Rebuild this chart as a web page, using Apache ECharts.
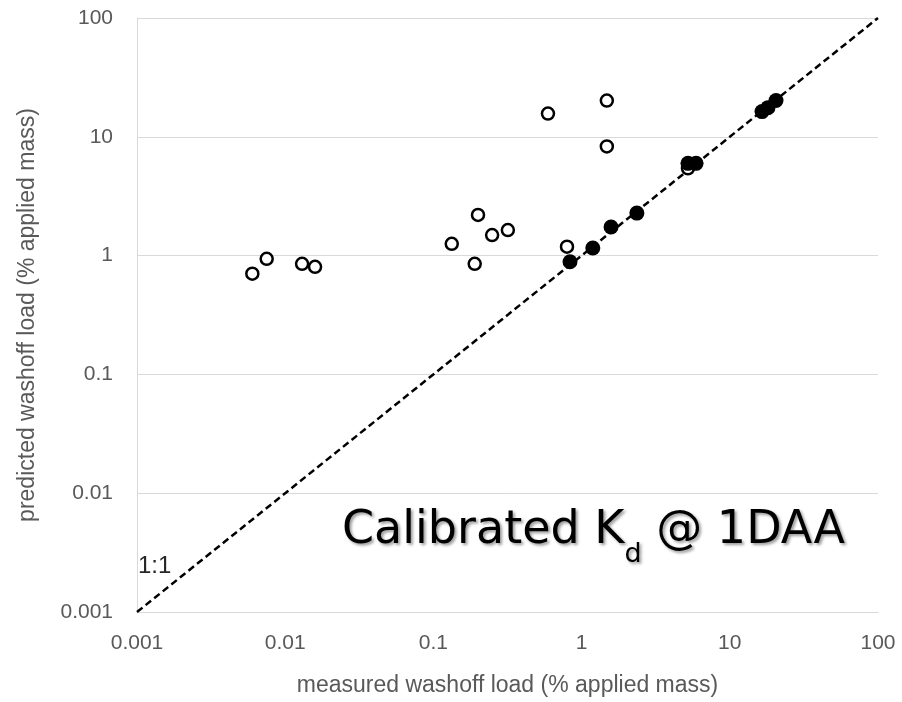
<!DOCTYPE html>
<html><head><meta charset="utf-8">
<script src="https://cdn.jsdelivr.net/npm/echarts@6/dist/echarts.min.js"></script>
<style>html,body{margin:0;padding:0;background:#fff}#c{width:902px;height:702px}</style>
</head><body><div id="c"></div>
<script>
// measured (x) and predicted (y) washoff load, % applied mass
const openMeasured  = [0.006, 0.0075, 0.013, 0.0159, 0.133, 0.2, 0.19, 0.249, 0.318, 0.593, 1.48, 1.48, 0.797, 5.22];
const openPredicted = [0.705, 0.94, 0.853, 0.805, 1.256, 2.2, 0.853, 1.49, 1.64, 15.7, 20.2, 8.3, 1.19, 5.43];
const filledMeasured  = [0.835, 1.19, 1.58, 2.36, 5.22, 5.92, 16.5, 18.1, 20.5];
const filledPredicted = [0.888, 1.16, 1.74, 2.28, 5.98, 5.98, 16.3, 17.6, 20.2];
const oneToOne = [0.001, 100];
const tickLabels = ['0.001', '0.01', '0.1', '1', '10', '100'];

const pairs = (xs, ys) => xs.map((x, i) => [x, ys[i]]);
const fmt = v => {
  const e = Math.round(Math.log10(v));
  return tickLabels[e + 3] !== undefined ? tickLabels[e + 3] : String(v);
};
const fontFam = '"Liberation Sans", Arial, sans-serif';

const chart = echarts.init(document.getElementById('c'));
chart.setOption({
  animation: false,
  backgroundColor: '#fff',
  grid: { left: 137, right: 24, top: 18, bottom: 87 },
  xAxis: {
    type: 'log', logBase: 10, min: 0.001, max: 100,
    name: 'measured washoff load (% applied mass)',
    nameLocation: 'middle', nameGap: 62,
    nameTextStyle: { color: '#595959', fontSize: 23, fontFamily: fontFam },
    axisLine: { show: true, lineStyle: { color: '#d9d9d9', width: 1 } },
    axisTick: { show: false },
    splitLine: { show: false },
    axisLabel: { color: '#595959', fontSize: 21, fontFamily: fontFam, margin: 21, formatter: fmt }
  },
  yAxis: {
    type: 'log', logBase: 10, min: 0.001, max: 100,
    name: 'predicted washoff load (% applied mass)',
    nameLocation: 'middle', nameGap: 98, nameRotate: 90,
    nameTextStyle: { color: '#595959', fontSize: 23, fontFamily: fontFam },
    axisLine: { show: true, lineStyle: { color: '#d9d9d9', width: 1 } },
    axisTick: { show: false },
    splitLine: { show: true, lineStyle: { color: '#d9d9d9', width: 1 } },
    axisLabel: { color: '#595959', fontSize: 21, fontFamily: fontFam, margin: 24, formatter: fmt }
  },
  series: [
    {
      type: 'line', data: oneToOne.map(v => [v, v]), symbol: 'none', silent: true,
      lineStyle: { color: '#000', width: 2.5, type: [7, 4] }, z: 1
    },
    {
      type: 'scatter', data: pairs(openMeasured, openPredicted), symbol: 'circle', symbolSize: 12,
      itemStyle: { color: '#fff', borderColor: '#000', borderWidth: 2.5, opacity: 1 }, z: 2
    },
    {
      type: 'scatter', data: pairs(filledMeasured, filledPredicted), symbol: 'circle', symbolSize: 15,
      itemStyle: { color: '#000', borderColor: '#000', borderWidth: 0, opacity: 1 }, z: 3
    }
  ],
  graphic: [
    { type: 'text', left: 138, top: 554,
      style: { text: '1:1', fill: '#262626', font: '24px ' + fontFam } },
    { type: 'text', left: 342, top: 508,
      style: {
        text: '{m|Calibrated K}{s|d}{m| @ 1DAA}',
        rich: {
          m: { fontSize: 46, fontFamily: '"DejaVu Sans", sans-serif', fill: '#000', verticalAlign: 'bottom', lineHeight: 58 },
          s: { fontSize: 27, fontFamily: '"DejaVu Sans", sans-serif', fill: '#000', verticalAlign: 'bottom', lineHeight: 42, padding: [0, 0, -14, 0] }
        },
        textShadowColor: 'rgba(0,0,0,0.4)', textShadowOffsetX: 2, textShadowOffsetY: 2, textShadowBlur: 3
      } }
  ]
});
</script></body></html>
